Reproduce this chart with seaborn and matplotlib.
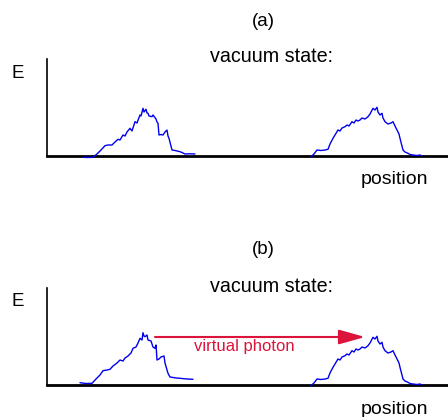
import matplotlib
matplotlib.use("Agg")
import matplotlib.pyplot as plt
import seaborn as sns
import pandas as pd

sns.set_style("white")
plt.rcParams["font.family"] = ["Liberation Sans", "DejaVu Sans"]
plt.rcParams["text.color"] = "black"

# left wave packet, panel (a)
left_a_pos = [36, 40, 46, 50, 54, 58, 61, 65, 68, 71, 73, 76, 78, 80, 83, 85, 88, 90, 93,
              94, 96, 97, 99, 100, 101, 102, 105, 106, 109, 110, 111, 112, 114, 116, 118,
              120, 121, 122, 125, 128, 133, 135, 138, 143, 148]
left_a_E = [-1.3, -1.5, -1.3, 2, 6, 10.3, 11, 11, 14, 16.7, 16, 21, 20, 24, 27.7, 25, 34.3,
            33, 41, 40, 47.7, 44, 46.7, 43, 42.7, 40, 39.3, 41, 37, 34, 32.7, 21, 21.5, 21,
            24, 26, 20, 17.7, 6, 5.5, 4.3, 3.5, 2, 2.2, 2]

# right wave packet (same in both panels)
right_pos = [264, 267, 270, 274, 278, 281, 283, 286, 288, 291, 293, 295, 298, 300, 302, 305,
             307, 309, 311, 313, 315, 318, 321, 323, 326, 328, 330, 331, 333, 335, 336, 338,
             341, 344, 346, 348, 350, 352, 353, 356, 358, 361, 363, 366, 370, 373, 375]
right_E = [-0.7, 2, 6, 5.5, 6, 6.7, 12, 17.7, 21, 26, 25, 28, 29.3, 31, 30, 34.3, 33, 36,
           35, 36, 38, 37, 39.3, 42, 47.7, 46, 48.7, 44, 41, 42.7, 38, 34.3, 32, 33, 34.3,
           30, 26, 22, 17.7, 6, 4, 2.7, 1.5, 1, 0.5, 1, 0]

# left wave packet, panel (b)
left_b_pos = [33, 39, 45, 49, 53, 56, 60, 63, 66, 70, 73, 76, 78, 81, 84, 86, 89, 91, 93,
              95, 96, 97, 98, 100, 101, 104, 106, 108, 109, 110, 112, 114, 117, 118, 121,
              123, 125, 129, 133, 140, 146]
left_b_E = [2.3, 1.5, 1.7, 6, 10, 14.3, 15, 15.7, 19, 22, 25, 24, 27, 29, 32, 36.7, 38, 42,
            46.7, 45, 52.3, 49, 48.3, 50, 45, 44, 38, 36.7, 40, 25, 26, 28, 29, 22, 11.7,
            8, 7.7, 7, 6.7, 6, 5.7]

panel_labels = ["(a)", "(b)"]
state_label = "vacuum state:"
axis_labels = ["E", "position"]
photon_label = "virtual photon"
photon_start = (108, 48)
photon_end = (318, 48)

W, H = 448, 417
fig = plt.figure(figsize=(W / 100, H / 100), dpi=100)

blue = "#0000ee"
red = "#dc143c"

panels = [
    (156, 59, left_a_pos, left_a_E),
    (385, 288, left_b_pos, left_b_E),
]

axes = []
for i, (base_y, top_y, lp, le) in enumerate(panels):
    ax = fig.add_axes([47 / W, 1 - base_y / H, 1 - 47 / W, (base_y - top_y) / H])
    left_df = pd.DataFrame({"position": lp, "E": le})
    right_df = pd.DataFrame({"position": right_pos, "E": right_E})
    for df in (left_df, right_df):
        sns.lineplot(data=df, x="position", y="E", ax=ax, color=blue, linewidth=1,
                     sort=False, clip_on=False, zorder=3)
    ax.set_xlim(0, W - 47)
    ax.set_ylim(0, base_y - top_y)
    ax.set_xticks([])
    ax.set_yticks([])
    ax.set_xlabel("")
    ax.set_ylabel("")
    ax.set_facecolor("none")
    for s in ("top", "right"):
        ax.spines[s].set_visible(False)
    ax.spines["left"].set_linewidth(1.2)
    ax.spines["bottom"].set_linewidth(2)
    ax.spines["left"].set_color("black")
    ax.spines["bottom"].set_color("black")
    axes.append(ax)

    off = 229 * i
    fig.text(263 / W, 1 - (21 + off) / H, panel_labels[i], ha="center", va="center", fontsize=13.5)
    fig.text(271.5 / W, 1 - (57 + off) / H, state_label, ha="center", va="center", fontsize=14.2)
    fig.text(18 / W, 1 - (73 + off) / H, axis_labels[0], ha="center", va="center", fontsize=13.5)
    fig.text(394 / W, 1 - (180 + off) / H, axis_labels[1],
             ha="center", va="center", fontsize=14)

axb = axes[1]
axb.annotate("", xy=photon_end, xytext=photon_start,
             arrowprops=dict(arrowstyle="-|>,head_length=1.6,head_width=0.45",
                             color=red, lw=1.5, shrinkA=0, shrinkB=0))
axb.text(244 - 47, photon_start[1] - 10, photon_label,
         ha="center", va="center", color=red, fontsize=12)

fig.savefig("out.png", dpi=100)
